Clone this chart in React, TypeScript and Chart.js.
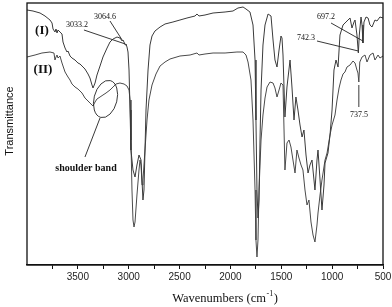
import React, { useEffect, useRef } from "react";
import { Chart, registerables } from "chart.js";

Chart.register(...registerables);

// Sample (I)
const wnI = [4000, 3941, 3872, 3823, 3774, 3754, 3744, 3725, 3715, 3705, 3695, 3676, 3656, 3646, 3626, 3607, 3597, 3577, 3558, 3528, 3499, 3479, 3459, 3430, 3400, 3381, 3361, 3351, 3331, 3312, 3282, 3253, 3213, 3184, 3154, 3115, 3086, 3064.6, 3056, 3033.2, 3027, 3017, 3007, 2997, 2987, 2978, 2958, 2938, 2919, 2899, 2879, 2860, 2850, 2840, 2830, 2810, 2791, 2771, 2742, 2692, 2643, 2565, 2496, 2427, 2348, 2329, 2309, 2250, 2171, 2053, 1975, 1926, 1876, 1847, 1808, 1778, 1758, 1749, 1739, 1729, 1719, 1709, 1699, 1680, 1660, 1630, 1601, 1581, 1562, 1542, 1522, 1503, 1493, 1483, 1464, 1444, 1414, 1395, 1375, 1356, 1336, 1316, 1296, 1277, 1257, 1237, 1218, 1198, 1169, 1149, 1139, 1119, 1100, 1080, 1070, 1041, 1021, 1001, 982, 962, 942, 923, 893, 864, 824, 805, 785, 775, 756, 742.3, 733, 716, 706, 697.2, 687, 667, 647, 628, 608, 579, 559, 530, 500];
const trI = [255, 254, 252, 249, 245, 242, 236, 233, 236, 232, 235, 233, 231, 223, 217, 213, 214, 209, 207, 205, 202, 201, 199, 196, 191, 187, 180, 177, 182, 190, 199, 208, 217, 223, 226, 228, 227, 224, 225, 220, 221, 218, 213, 195, 155, 115, 95, 88, 100, 110, 105, 65, 75, 115, 155, 195, 220, 229, 234, 238, 241, 243, 245, 247, 249, 251, 249, 250, 252, 253, 254, 257, 258, 256, 253, 240, 205, 145, 75, 47, 65, 125, 175, 220, 240, 251, 249, 225, 205, 198, 215, 229, 227, 210, 148, 178, 205, 178, 145, 168, 155, 140, 128, 135, 110, 92, 100, 105, 75, 105, 115, 85, 55, 80, 102, 112, 130, 155, 195, 205, 198, 230, 240, 243, 247, 237, 243, 245, 230, 212, 230, 248, 240, 222, 243, 248, 247, 240, 238, 245, 244, 248, 247];

// Sample (II)
const wnII = [4000, 3921, 3853, 3774, 3735, 3725, 3715, 3705, 3695, 3676, 3656, 3626, 3597, 3577, 3558, 3528, 3499, 3479, 3459, 3430, 3400, 3381, 3351, 3331, 3312, 3282, 3253, 3223, 3184, 3154, 3125, 3086, 3046, 3017, 2997, 2987, 2978, 2968, 2958, 2948, 2938, 2919, 2899, 2889, 2879, 2869, 2860, 2840, 2820, 2801, 2771, 2732, 2692, 2643, 2594, 2496, 2397, 2329, 2309, 2250, 2171, 2053, 1936, 1876, 1847, 1827, 1798, 1778, 1758, 1749, 1739, 1729, 1719, 1699, 1680, 1660, 1640, 1611, 1581, 1562, 1542, 1522, 1503, 1483, 1464, 1444, 1424, 1405, 1385, 1365, 1346, 1326, 1306, 1287, 1267, 1247, 1228, 1208, 1188, 1169, 1149, 1139, 1119, 1100, 1070, 1050, 1021, 1001, 972, 952, 932, 913, 893, 874, 854, 824, 795, 775, 756, 746, 737.5, 728, 706, 677, 657, 628, 598, 579, 549, 530, 500];
const trII = [208, 210, 212, 213, 212, 205, 208, 210, 207, 209, 202, 193, 188, 185, 181, 178, 176, 174, 172, 167, 164, 162, 159, 163, 166, 168, 170, 172, 175, 178, 181, 182, 181, 179, 175, 165, 125, 75, 45, 38, 43, 70, 95, 105, 100, 80, 85, 115, 145, 165, 180, 191, 199, 203, 206, 209, 210, 212, 210, 211, 212, 212, 213, 213, 210, 203, 185, 145, 75, 25, 8, 25, 75, 125, 150, 167, 178, 183, 182, 177, 168, 175, 182, 180, 95, 122, 125, 118, 105, 92, 115, 107, 100, 95, 75, 60, 65, 43, 30, 23, 40, 52, 70, 85, 105, 112, 130, 140, 150, 165, 177, 185, 191, 193, 198, 200, 204, 202, 195, 192, 183, 203, 208, 210, 203, 210, 212, 205, 210, 207, 209];

const xMin = 500;
const xMax = 4000;
const yMin = 0;
const yMax = 262;
const majorStep = 500;
const minorStep = 250;

const xTitle = "Wavenumbers (cm";
const xTitleSup = "-1";
const yTitle = "Transmittance";

export default function App() {
  const ref = useRef<HTMLCanvasElement | null>(null);

  useEffect(() => {
    const canvas = ref.current;
    if (!canvas) return;

    const toPts = (xs: number[], ys: number[]) => xs.map((x, i) => ({ x, y: ys[i] }));

    const decor = {
      id: "decor",
      afterDraw(chart: any) {
        const { ctx, chartArea: a, scales } = chart;
        const x = scales.x;
        const y = scales.y;
        const P = (wn: number, v: number) => [x.getPixelForValue(wn), y.getPixelForValue(v)];
        ctx.save();
        // frame
        ctx.strokeStyle = "#111";
        ctx.lineWidth = 1.3;
        ctx.strokeRect(a.left, a.top, a.right - a.left, a.bottom - a.top);

        // line helper
        const line = (p1: number[], p2: number[]) => {
          ctx.beginPath();
          ctx.moveTo(p1[0], p1[1]);
          ctx.lineTo(p2[0], p2[1]);
          ctx.stroke();
        };
        ctx.strokeStyle = "#222";
        ctx.lineWidth = 0.9;
        line(P(3440, 235), P(3033.2, 221));
        line(P(3184, 244), P(3064.6, 225));
        line(P(1011, 242), P(697.2, 224));
        line(P(1149, 224), P(742.3, 214));
        line(P(737.5, 158), P(737.5, 180));
        line(P(3282, 147), P(3430, 108));

        // ellipse
        const c = P(3228, 166);
        ctx.beginPath();
        ctx.ellipse(c[0], c[1], 11.5, 19, 0.25, 0, Math.PI * 2);
        ctx.stroke();

        // texts
        ctx.fillStyle = "#111";
        ctx.textAlign = "center";
        ctx.textBaseline = "middle";
        const txt = (s: string, wn: number, v: number, font: string) => {
          ctx.font = font;
          const p = P(wn, v);
          ctx.fillText(s, p[0], p[1]);
        };
        txt("(I)", 3853, 234, "bold 13px 'Liberation Serif'");
        txt("(II)", 3843, 195, "bold 13px 'Liberation Serif'");
        txt("3033.2", 3508, 240, "8px 'Liberation Serif'");
        txt("3064.6", 3233, 248, "8px 'Liberation Serif'");
        txt("697.2", 1060, 248, "8px 'Liberation Serif'");
        txt("742.3", 1257, 227, "8px 'Liberation Serif'");
        txt("737.5", 736, 150, "8px 'Liberation Serif'");
        txt("shoulder band", 3420, 97, "bold 10px 'Liberation Serif'");

        // x title with superscript
        ctx.textAlign = "left";
        ctx.font = "12.5px 'Liberation Serif'";
        const w1 = ctx.measureText(xTitle).width;
        ctx.font = "8px 'Liberation Serif'";
        const w2 = ctx.measureText(xTitleSup).width;
        ctx.font = "12.5px 'Liberation Serif'";
        const w3 = ctx.measureText(")").width;
        const total = w1 + w2 + w3 + 1;
        const cx = 225;
        let sx = cx - total / 2;
        const ty = 299;
        ctx.fillText(xTitle, sx, ty);
        sx += w1 + 0.5;
        ctx.font = "8px 'Liberation Serif'";
        ctx.fillText(xTitleSup, sx, ty - 5);
        sx += w2 + 0.5;
        ctx.font = "12.5px 'Liberation Serif'";
        ctx.fillText(")", sx, ty);

        // y title
        ctx.save();
        ctx.translate(10, 121);
        ctx.rotate(-Math.PI / 2);
        ctx.textAlign = "center";
        ctx.font = "11px 'Liberation Sans'";
        ctx.fillText(yTitle, 0, 0);
        ctx.restore();

        ctx.restore();
      },
    };

    const chart = new Chart(canvas, {
      type: "line",
      data: {
        datasets: [
          {
            label: "(I)",
            data: toPts(wnI, trI),
            borderColor: "#3a3a3a",
            borderWidth: 1,
            pointRadius: 0,
            tension: 0,
            fill: false,
          },
          {
            label: "(II)",
            data: toPts(wnII, trII),
            borderColor: "#4a4a4a",
            borderWidth: 1,
            pointRadius: 0,
            tension: 0,
            fill: false,
          },
        ],
      },
      options: {
        animation: false,
        responsive: false,
        devicePixelRatio: 1,
        layout: { padding: { left: 27, right: 9, top: 3, bottom: 0 } },
        plugins: { legend: { display: false }, tooltip: { enabled: false }, title: { display: false } },
        scales: {
          x: {
            type: "linear",
            reverse: true,
            min: xMin,
            max: xMax,
            afterBuildTicks: (s: any) => {
              const t = [];
              for (let v = xMin; v < xMax; v += minorStep) t.push({ value: v });
              s.ticks = t;
            },
            afterFit: (s: any) => {
              s.height = 42;
            },
            ticks: {
              autoSkip: false,
              maxRotation: 0,
              padding: 2,
              color: "#222",
              font: { family: "'Liberation Sans'", size: 10 },
              callback: (v: any) => (Number(v) % majorStep === 0 ? String(v) : ""),
            },
            grid: { display: true, drawOnChartArea: false, drawTicks: true, tickLength: 4, color: "#111", lineWidth: 1 },
            border: { display: true, color: "#111", width: 1.3 },
          },
          y: {
            display: false,
            min: yMin,
            max: yMax,
          },
        },
      },
      plugins: [decor],
    });
    return () => chart.destroy();
  }, []);

  return (
    <div style={{ position: "fixed", left: 0, top: 0, width: 392, height: 307, background: "#fff" }}>
      <canvas ref={ref} width={392} height={307} />
    </div>
  );
}
